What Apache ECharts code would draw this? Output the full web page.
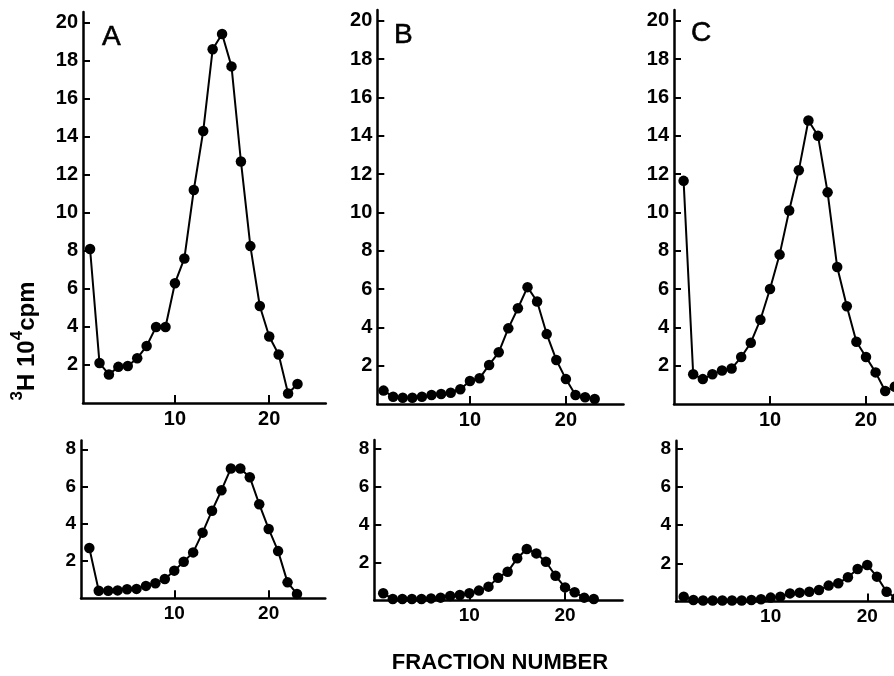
<!DOCTYPE html>
<html>
<head>
<meta charset="utf-8">
<script src="https://cdn.jsdelivr.net/npm/echarts@6.0.0/dist/echarts.min.js"></script>
<style>
html,body{margin:0;padding:0;background:#fff;}
#chart{width:894px;height:676px;}
</style>
</head>
<body>
<div id="chart"></div>
<script>
// ---- data ----
var fractions = [1,2,3,4,5,6,7,8,9,10,11,12,13,14,15,16,17,18,19,20,21,22,23];
var topA = [8.1, 2.1, 1.5, 1.9, 1.95, 2.35, 3.0, 4.0, 4.0, 6.3, 7.6, 11.2, 14.3, 18.6, 19.4, 17.7, 12.7, 8.25, 5.1, 3.5, 2.55, 0.5, 1.0];
var topB = [0.7, 0.38, 0.33, 0.33, 0.38, 0.47, 0.52, 0.59, 0.77, 1.2, 1.34, 2.04, 2.7, 3.95, 5.0, 6.1, 5.35, 3.65, 2.3, 1.3, 0.47, 0.35, 0.26];
var topC = [11.65, 1.55, 1.3, 1.55, 1.75, 1.85, 2.45, 3.2, 4.4, 6.0, 7.8, 10.1, 12.2, 14.8, 14.0, 11.05, 7.15, 5.1, 3.25, 2.45, 1.65, 0.68, 0.9];
var botA = [2.7, 0.4, 0.4, 0.42, 0.48, 0.5, 0.66, 0.8, 1.03, 1.48, 1.96, 2.46, 3.52, 4.7, 5.8, 6.97, 6.97, 6.5, 5.05, 3.72, 2.53, 0.85, 0.23];
var botB = [0.37, 0.07, 0.07, 0.07, 0.07, 0.1, 0.14, 0.23, 0.28, 0.37, 0.51, 0.72, 1.19, 1.5, 2.21, 2.7, 2.47, 2.03, 1.29, 0.68, 0.42, 0.14, 0.07];
var botC = [0.25, 0.07, 0.05, 0.05, 0.05, 0.05, 0.05, 0.07, 0.11, 0.2, 0.25, 0.42, 0.46, 0.51, 0.6, 0.83, 0.95, 1.27, 1.7, 1.91, 1.3, 0.51, 0.16];
var xTickValues = [10, 20];
var yTickTop = [2,4,6,8,10,12,14,16,18,20];
var yTickBottom = [2,4,6,8];
var panelLetters = ['A','B','C'];
var xTitle = 'FRACTION NUMBER';

// ---- layout (pixels / axis extents) ----
var panels = [
  {data: topA, left: 83,    top: 12,    width: 242.8, height: 391,   xmin: 0.25, xmax: 26,    ymax: 20.56, ticks: yTickTop, fs: 20},
  {data: topB, left: 377.3, top: 10,    width: 246.2, height: 394,   xmin: 0.35, xmax: 26,    ymax: 20.57, ticks: yTickTop, fs: 20},
  {data: topC, left: 674,   top: 10,    width: 220,   height: 394,   xmin: 0,    xmax: 22.917, ymax: 20.57, ticks: yTickTop, fs: 20},
  {data: botA, left: 81,    top: 440.5, width: 244.3, height: 157.7, xmin: 0.12, xmax: 26,    ymax: 8.47,  ticks: yTickBottom, fs: 19},
  {data: botB, left: 374.3, top: 440,   width: 248.2, height: 160.3, xmin: 0.07, xmax: 26,    ymax: 8.44,  ticks: yTickBottom, fs: 19},
  {data: botC, left: 676,   top: 440.7, width: 218,   height: 160.7, xmin: 0.2,  xmax: 22.767, ymax: 8.44,  ticks: yTickBottom, fs: 19}
];

var FONT = 'Liberation Sans';
var grids = [], xAxes = [], yAxes = [], series = [];
panels.forEach(function(p, i){
  grids.push({left: p.left, top: p.top, width: p.width, height: p.height, containLabel: false});
  xAxes.push({
    type: 'value', gridIndex: i, min: p.xmin, max: p.xmax,
    axisLine: {show: true, onZero: false, lineStyle: {color: '#000', width: 2.5}},
    axisTick: {show: true, inside: true, length: 8, lineStyle: {color: '#000', width: 2}, customValues: xTickValues},
    axisLabel: {show: true, customValues: xTickValues, color: '#000', fontFamily: FONT, fontWeight: 'bold', fontSize: p.fs, margin: 6},
    splitLine: {show: false}
  });
  yAxes.push({
    type: 'value', gridIndex: i, min: 0, max: p.ymax,
    axisLine: {show: true, lineStyle: {color: '#000', width: 2.5}},
    axisTick: {show: true, inside: true, length: 7, lineStyle: {color: '#000', width: 2}, customValues: p.ticks},
    axisLabel: {show: true, customValues: p.ticks, color: '#000', fontFamily: FONT, fontWeight: 'bold', fontSize: p.fs, margin: 5},
    splitLine: {show: false}
  });
  series.push({
    type: 'line', xAxisIndex: i, yAxisIndex: i,
    data: fractions.map(function(f, k){ return [f, p.data[k]]; }),
    symbol: 'circle', symbolSize: 10.5, showSymbol: true, clip: false,
    lineStyle: {color: '#000', width: 2},
    itemStyle: {color: '#000'},
    animation: false
  });
});

var letterPos = [{x: 102, y: 37}, {x: 394, y: 35}, {x: 691, y: 33}];
var graphics = panelLetters.map(function(L, i){
  return {type: 'text', x: letterPos[i].x, y: letterPos[i].y,
    style: {text: L, fontFamily: FONT, fontSize: 28, fill: '#000', stroke: '#000', lineWidth: 0.6, textAlign: 'left', textVerticalAlign: 'middle'}};
});
graphics.push({
  type: 'text', x: 500, y: 663,
  style: {text: xTitle, fontFamily: FONT, fontWeight: 'bold', fontSize: 22, fill: '#000', textAlign: 'center', textVerticalAlign: 'middle'}
});
graphics.push({
  type: 'text', x: 24, y: 341, rotation: Math.PI / 2,
  style: {
    text: '{s|3}{n|H 10}{s|4}{n|cpm}',
    textAlign: 'center', textVerticalAlign: 'middle', fill: '#000',
    rich: {
      s: {fontFamily: FONT, fontWeight: 'bold', fontSize: 17, verticalAlign: 'top', fill: '#000'},
      n: {fontFamily: FONT, fontWeight: 'bold', fontSize: 24, verticalAlign: 'bottom', lineHeight: 30, fill: '#000'}
    }
  }
});

var chart = echarts.init(document.getElementById('chart'), null, {renderer: 'canvas'});
chart.setOption({
  backgroundColor: '#fff',
  animation: false,
  grid: grids, xAxis: xAxes, yAxis: yAxes, series: series,
  graphic: graphics
});
</script>
</body>
</html>
